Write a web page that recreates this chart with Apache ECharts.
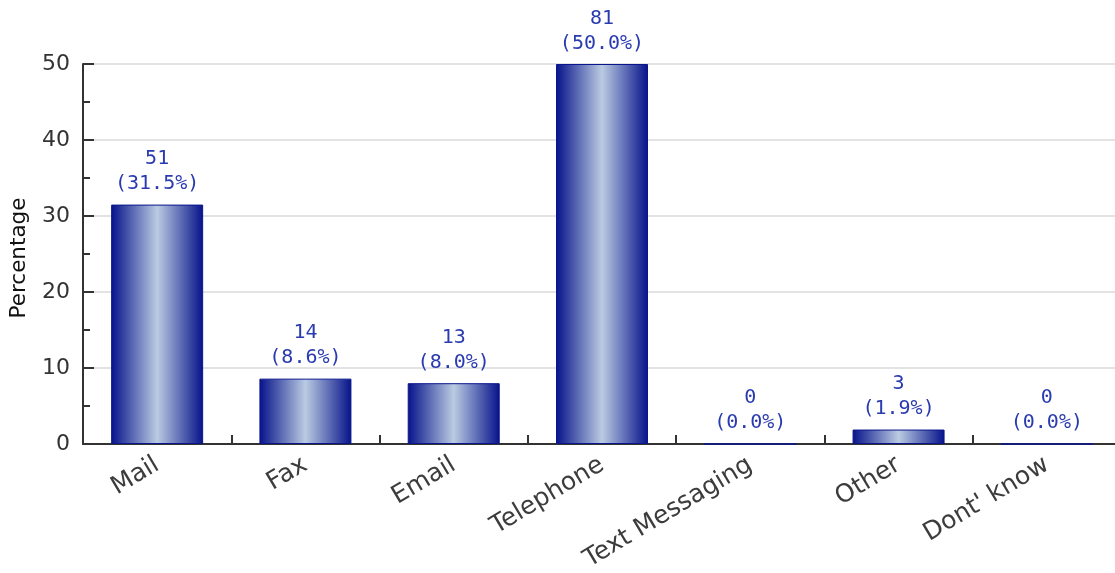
<!DOCTYPE html>
<html>
<head>
<meta charset="utf-8">
<script src="https://cdn.jsdelivr.net/npm/echarts@6/dist/echarts.min.js"></script>
<style>
  html, body { margin: 0; padding: 0; background: #ffffff; }
  #chart { width: 1115px; height: 573px; }
</style>
</head>
<body>
<div id="chart"></div>
<script>
// Contact method responses
const categories = ['Mail', 'Fax', 'Email', 'Telephone', 'Text Messaging', 'Other', "Dont' know"];
const counts = [51, 14, 13, 81, 0, 3, 0];
const percentages = [31.5, 8.6, 8.0, 50.0, 0.0, 1.9, 0.0];
const yTicks = [0, 10, 20, 30, 40, 50];

const barGradient = new echarts.graphic.LinearGradient(0, 0, 1, 0, [
  { offset: 0, color: '#06128a' },
  { offset: 0.5, color: '#bacbe2' },
  { offset: 1, color: '#06128a' }
]);

const chart = echarts.init(document.getElementById('chart'), null, { renderer: 'canvas' });

chart.setOption({
  animation: false,
  backgroundColor: '#ffffff',
  grid: { left: 83, right: -6, top: 64, bottom: 129, containLabel: false, outerBoundsMode: 'none' },
  xAxis: {
    type: 'category',
    data: categories,
    axisLine: { lineStyle: { color: '#333333', width: 2 } },
    axisTick: { show: true, inside: true, length: 9, lineStyle: { color: '#333333', width: 2 } },
    axisLabel: {
      rotate: 31,
      margin: 19,
      fontFamily: 'DejaVu Sans',
      fontSize: 25,
      color: '#3c3c3c'
    },
    splitLine: { show: false }
  },
  yAxis: {
    type: 'value',
    min: yTicks[0],
    max: yTicks[yTicks.length - 1],
    interval: 10,
    name: 'Percentage',
    nameLocation: 'middle',
    nameGap: 53,
    nameTextStyle: { fontFamily: 'DejaVu Sans', fontSize: 21.5, color: '#111111', padding: [0, 8, 0, 0] },
    axisLine: { show: true, lineStyle: { color: '#333333', width: 2 } },
    axisTick: { show: true, inside: true, length: 11, lineStyle: { color: '#333333', width: 2 } },
    minorTick: { show: true, splitNumber: 2, length: 7, lineStyle: { color: '#333333', width: 2 } },
    axisLabel: {
      margin: 13,
      fontFamily: 'DejaVu Sans',
      fontSize: 22,
      color: '#333333'
    },
    splitLine: { show: true, lineStyle: { color: '#e3e3e3', width: 2 } }
  },
  series: [{
    type: 'bar',
    data: percentages,
    barWidth: 92,
    itemStyle: { color: barGradient, borderColor: '#0a168c', borderWidth: 1 },
    label: {
      show: true,
      position: 'top',
      distance: 8,
      fontFamily: 'DejaVu Sans Mono',
      fontSize: 20,
      lineHeight: 25,
      color: '#2a3bb0',
      formatter: function (p) {
        return counts[p.dataIndex] + '\n(' + percentages[p.dataIndex].toFixed(1) + '%)';
      }
    }
  }]
});
</script>
</body>
</html>
